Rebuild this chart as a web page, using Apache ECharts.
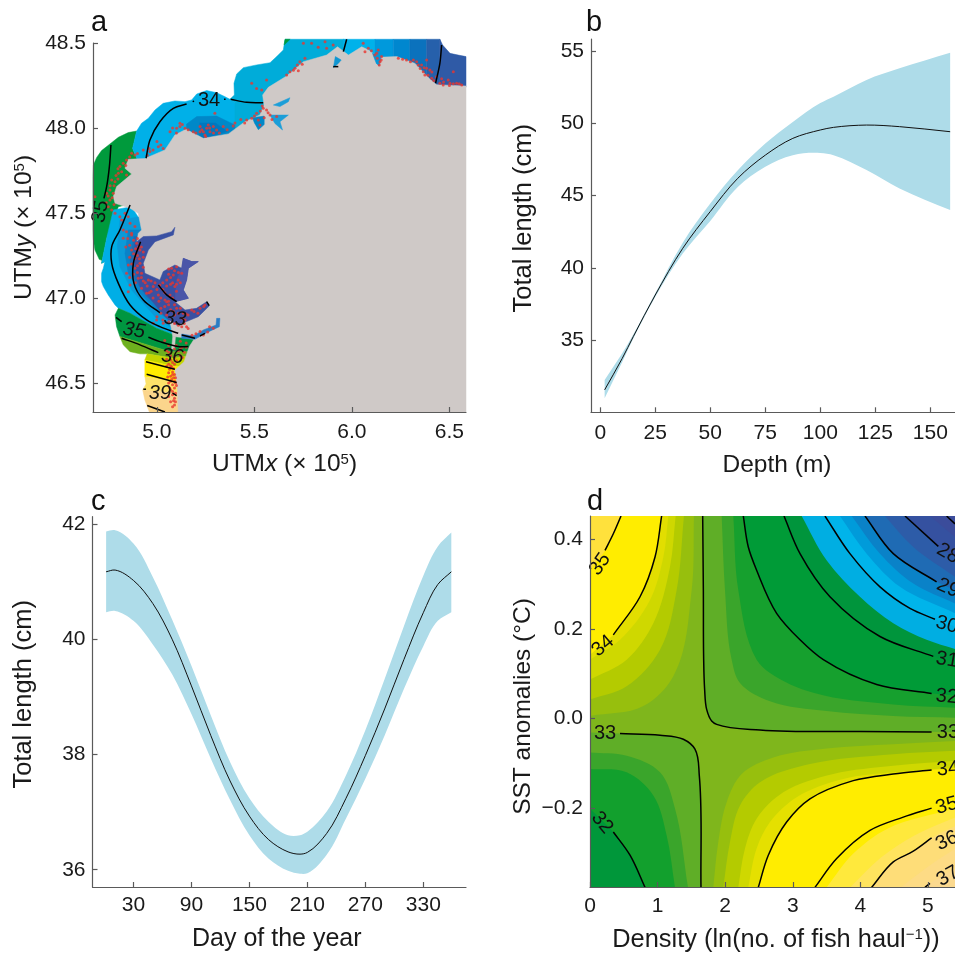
<!DOCTYPE html>
<html><head><meta charset="utf-8">
<style>html,body{margin:0;padding:0;background:#fff}#c{width:955px;height:953px}</style>
<script src="https://cdn.jsdelivr.net/npm/echarts@6/dist/echarts.min.js"></script>
</head><body><div id="c"></div>
<script>
// ---------- Panel b ----------
const depth=[2,10,15,25,37.5,50,62.5,75,87.5,100,106,121,136,159];
const depthMean=[31.57,33.75,35.25,38.13,41.36,43.9,46.2,47.8,48.96,49.54,49.72,49.88,49.77,49.42];
const depthUpper=[32.26,34.1,35.4,38.25,41.75,44.45,46.75,48.6,50.1,51.4,51.84,53.0,53.8,54.88];
const depthLower=[31.0,33.5,35.1,38.0,41.0,43.25,45.6,47.0,47.8,47.95,47.8,46.77,45.5,44.0];
const depthTicks=[0,25,50,75,100,125,150];
const lengthTicksB=[35,40,45,50,55];
// ---------- Panel c ----------
const day=[1.7,11,30,50,70,90,110,130,150,170,190,202.4,210,230,250,270,290,310,330,345,359];
const dayMean=[41.17,41.2,41.02,40.62,40.0,39.19,38.33,37.54,36.93,36.52,36.31,36.27,36.3,36.63,37.24,37.98,38.79,39.65,40.46,40.95,41.17];
const dayUpper=[41.87,41.89,41.66,41.08,40.34,39.54,38.68,37.87,37.24,36.83,36.6,36.6,36.66,37.01,37.64,38.42,39.31,40.23,41.1,41.61,41.85];
const dayLower=[40.47,40.49,40.32,39.91,39.39,38.7,37.93,37.21,36.6,36.19,35.98,35.93,35.94,36.26,36.89,37.58,38.33,39.14,39.88,40.32,40.47];
const dayTicks=[30,90,150,210,270,330];
const lengthTicksC=[36,38,40,42];
// ---------- Panel a ----------
const utmXTicks=[5,5.5,6,6.5];
const utmYTicks=[46.5,47,47.5,48,48.5];
const landOutline=[[6.585,46.329],[5.109,46.329],[5.105,46.459],[5.092,46.576],[5.139,46.625],[5.166,46.714],[5.19,46.757],[5.118,46.769],[5.081,46.773],[5.058,46.92],[4.947,47.106],[4.892,47.282],[4.904,47.38],[4.921,47.4],[4.904,47.498],[4.862,47.528],[4.785,47.557],[4.776,47.596],[4.793,47.655],[4.87,47.729],[4.836,47.763],[4.853,47.816],[4.938,47.82],[5.041,47.871],[5.092,47.959],[5.149,47.992],[5.238,47.939],[5.366,47.965],[5.451,48.037],[5.528,48.077],[5.549,48.135],[5.542,48.194],[5.571,48.239],[5.665,48.306],[5.751,48.39],[5.87,48.429],[5.926,48.478],[5.982,48.429],[6.05,48.478],[6.085,48.459],[6.136,48.416],[6.23,48.42],[6.324,48.38],[6.401,48.286],[6.435,48.255],[6.585,48.247]];
const seaRegions=[
 [[4.716,47.204],[4.733,47.214],[4.704,47.227],[4.682,47.282],[4.674,47.341],[4.672,47.4],[4.672,47.714],[4.674,47.782],[4.691,47.827],[4.716,47.867],[4.759,47.906],[4.802,47.945],[4.853,47.973],[4.896,47.982],[4.875,47.88],[4.9,47.812],[4.9,47.655],[4.85,47.55],[4.802,47.537],[4.776,47.459],[4.742,47.351]],
 [[4.896,47.982],[4.921,48.028],[4.956,48.057],[4.99,48.106],[5.032,48.145],[5.092,48.159],[5.144,48.155],[5.178,48.165],[5.204,48.2],[5.255,48.22],[5.306,48.208],[5.349,48.184],[5.374,48.169],[5.4,48.15],[5.42,48.0],[5.2,47.8],[4.9,47.812],[4.875,47.88]],
 [[5.374,48.169],[5.397,48.194],[5.395,48.263],[5.409,48.318],[5.443,48.355],[5.511,48.371],[5.58,48.384],[5.614,48.42],[5.648,48.459],[5.657,48.522],[5.96,48.522],[5.96,48.3],[5.6,48.0],[5.4,48.0],[5.4,48.15]],
 [[5.652,48.488],[5.657,48.522],[5.683,48.522]],
 [[5.956,48.522],[6.118,48.522],[6.118,48.3],[5.956,48.3]],
 [[6.118,48.522],[6.212,48.522],[6.212,48.3],[6.118,48.3]],
 [[6.212,48.522],[6.297,48.522],[6.297,48.3],[6.212,48.3]],
 [[6.297,48.522],[6.383,48.522],[6.383,48.25],[6.297,48.25]],
 [[6.383,48.522],[6.451,48.522],[6.451,48.24],[6.383,48.24]],
 [[6.451,48.522],[6.465,48.488],[6.503,48.439],[6.545,48.429],[6.585,48.42],[6.585,48.24],[6.451,48.24]],
 [[5.152,48.023],[5.204,48.067],[5.306,48.07],[5.4,48.018],[5.4,47.9],[5.15,47.9]],
 [[5.22,48.03],[5.3,48.03],[5.36,47.98],[5.22,47.93]],
 [[4.802,46.939],[4.785,46.959],[4.75,47.018],[4.725,47.067],[4.716,47.096],[4.716,47.145],[4.725,47.175],[4.733,47.214],[4.716,47.204],[4.742,47.351],[4.776,47.518],[4.87,47.537],[4.913,47.459],[5.186,47.106],[5.186,46.753],[5.109,46.773],[4.998,46.822],[4.862,46.91]],
 [[4.81,47.459],[4.797,47.302],[4.81,47.184],[4.87,47.047],[4.998,46.88],[5.101,46.802],[5.186,46.763],[5.186,47.4],[4.913,47.478]],
 [[4.853,47.4],[4.836,47.263],[4.853,47.145],[4.913,47.027],[5.015,46.91],[5.118,46.822],[5.186,46.812],[5.186,47.4]],
 [[4.882,47.361],[4.862,47.224],[4.887,47.106],[4.947,47.008],[5.032,46.929],[5.118,46.851],[5.186,46.851],[5.186,47.361]],
 [[4.802,46.939],[4.785,46.9],[4.793,46.831],[4.81,46.773],[5.067,46.684],[5.2,46.684],[5.2,46.773],[5.101,46.776],[4.998,46.822],[4.862,46.91]],
 [[4.81,46.773],[4.827,46.724],[4.862,46.684],[4.913,46.671],[4.95,46.671],[5.084,46.645],[5.2,46.665],[5.2,46.684],[5.067,46.684]],
 [[4.95,46.671],[4.938,46.635],[5.092,46.596],[5.2,46.6],[5.2,46.665],[5.084,46.645]],
 [[4.938,46.635],[4.938,46.537],[5.2,46.488],[5.2,46.6],[5.092,46.596]],
 [[4.938,46.537],[4.944,46.494],[4.927,46.459],[5.2,46.429],[5.2,46.488]],
 [[4.927,46.459],[4.938,46.4],[4.961,46.329],[5.2,46.329],[5.2,46.429]]
];
const seaColors=['#009a3c','#00b0e8','#00acd9','#009a3c','#00b2ea','#0099dc','#0087cf','#0b72bd','#2660ab','#2f5aa6','#0088c8','#0078bf','#00aee6','#0a9ad8','#0a82c8','#1c6cb5','#009640','#6eb01e','#c4d500','#ffed00','#fde36a','#fbd58c'];
const inlets=[
 [[4.887,47.322],[4.93,47.361],[4.998,47.365],[5.075,47.39],[5.092,47.416],[5.084,47.371],[4.99,47.331],[4.956,47.282],[4.93,47.204],[4.938,47.145],[5.015,47.106],[5.032,47.155],[5.092,47.194],[5.127,47.175],[5.135,47.233],[5.178,47.214],[5.212,47.214],[5.161,47.175],[5.152,47.106],[5.135,47.047],[5.161,46.998],[5.092,46.978],[5.144,46.929],[5.203,46.939],[5.255,46.978],[5.268,46.953],[5.212,46.89],[5.152,46.861],[5.101,46.841],[5.05,46.88],[4.998,46.949],[4.913,47.067],[4.887,47.184]],
 [[5.127,47.175],[5.135,47.233],[5.178,47.214],[5.212,47.214],[5.161,47.175],[5.152,47.106],[5.135,47.047],[5.161,46.998],[5.092,46.978],[5.101,47.106]],
 [[5.127,46.788],[5.186,46.776],[5.238,46.812],[5.303,46.841],[5.306,46.88],[5.323,46.88],[5.32,46.831],[5.255,46.796],[5.195,46.757],[5.127,46.763]],
 [[5.597,48.135],[5.682,48.178],[5.674,48.155],[5.631,48.126]],
 [[5.58,48.076],[5.674,48.076],[5.631,48.037],[5.644,47.988],[5.605,48.027]],
 [[5.49,48.06],[5.55,48.07],[5.55,48.02],[5.52,47.99],[5.5,48.03]],
 [[5.915,48.42],[5.945,48.4],[5.93,48.38],[5.905,48.355],[5.91,48.39]],
 [[6.105,48.44],[6.15,48.42],[6.14,48.365],[6.125,48.38]],
 [[5.081,46.773],[5.095,46.773],[5.09,46.7],[5.075,46.7]]
];
const inletColors=['#3a50a2','#4a55a8','#2a7cc4','#1c9ed8','#1c9ed8','#0088c8','#1096d2','#0099dc','#cfc9c7'];
const catchPoints=[
[5.751,48.498],[5.793,48.498],[5.862,48.508],[5.904,48.488],[5.87,48.469],[5.827,48.475],[5.759,48.41],[5.733,48.39],[5.708,48.351],[5.682,48.331],[5.725,48.337],[5.665,48.312],[6.058,48.498],[6.084,48.469],[6.067,48.449],[6.127,48.439],[6.152,48.42],[6.144,48.39],[6.135,48.459],[6.118,48.429],[6.238,48.41],[6.28,48.4],[6.315,48.4],[6.34,48.371],[6.366,48.331],[6.383,48.351],[6.409,48.292],[6.434,48.302],[6.494,48.282],[6.503,48.263],[6.537,48.263],[6.563,48.253],[6.451,48.263],[6.383,48.4],[6.357,48.371],[6.332,48.39],[6.4,48.341],[6.374,48.312],[6.468,48.253],[6.52,48.331],
[4.768,47.694],[4.802,47.733],[4.81,47.773],[4.827,47.792],[4.844,47.812],[4.87,47.851],[4.776,47.616],[4.759,47.576],[4.742,47.616],[4.768,47.518],[4.785,47.498],[4.682,47.596],[4.819,47.743],[4.844,47.724],[4.785,47.684],[4.759,47.635],[4.75,47.537],
[4.887,47.841],[4.93,47.871],[4.964,47.861],[5.007,47.89],[5.032,47.88],[5.101,47.998],[5.118,48.008],[5.067,47.978],[5.221,48.008],[5.255,47.998],[5.238,47.978],[5.272,47.978],[5.306,47.988],[5.34,48.008],[5.297,48.086],[5.186,47.978],[5.246,47.959],[5.391,48.012],[5.46,48.047],[5.486,48.057],[5.511,48.086],[5.545,48.116],[5.562,48.106],[5.58,48.076],[5.614,48.067],[5.528,48.018],[5.52,48.047],[5.486,48.263],[5.562,48.282],[5.511,48.233],[5.537,48.224],[5.118,48.028],[5.144,47.998],[5.263,48.018],[5.221,47.978],[5.289,48.008],
[4.844,47.39],[4.87,47.371],[4.827,47.351],[4.896,47.322],[4.913,47.282],[4.87,47.282],[4.887,47.233],[4.913,47.204],[4.853,47.194],[4.844,47.145],[4.887,47.175],[4.921,47.145],[4.904,47.116],[4.862,47.076],[4.853,47.037],[4.921,47.057],[4.947,47.027],[4.956,47.106],[4.981,47.067],[5.007,47.018],[5.041,46.988],[5.067,47.018],[5.092,47.067],[5.015,47.076],[5.05,47.106],[5.084,47.135],[5.109,47.106],[5.075,47.175],[5.101,47.184],[5.127,47.145],[5.05,46.978],[5.101,46.939],[5.135,46.91],[5.178,46.929],[5.221,46.939],[5.246,46.959],[5.084,46.92],[5.05,46.9],[4.998,46.871],[5.032,46.851],[4.981,46.851],[5.127,46.831],[5.152,46.831],[5.238,46.782],[5.221,46.802],[5.289,46.822],[5.144,46.871],
[4.81,47.478],[4.836,47.498],[4.862,47.439],[4.887,47.42],[4.827,47.4],[4.87,47.38],[4.819,47.459],[4.853,47.478],
[4.905,47.3],[4.93,47.24],[4.9,47.15],[4.93,47.1],[4.97,47.04],[5.02,47.0],[5.06,46.96],[5.02,46.94],[5.09,46.9],[5.12,46.94],[5.15,46.905],[5.07,47.08],[5.03,47.05],[5.1,47.04],[5.12,47.09],[5.06,47.14],
[5.09,46.37],[5.07,46.39],[5.09,46.41],[5.06,46.42],[5.08,46.43],[5.095,46.44],[5.07,46.46],[5.09,46.47],[5.08,46.49],[5.06,46.5],[5.09,46.51],[5.075,46.52],[5.085,46.53],[5.07,46.54],[5.09,46.55],[5.06,46.56],[5.08,46.565],[5.065,46.58],[5.075,46.595],[5.05,46.6],[5.06,46.61],[5.08,46.62],[5.07,46.635],[5.09,46.65],[5.1,46.63],[5.12,46.66],[5.07,46.66],[5.11,46.69],[5.09,46.7],[5.13,46.71],[5.06,46.72],[5.1,46.72],[5.15,46.735],[5.04,46.75],[5.12,46.745],[5.085,46.585],[5.055,46.535],[5.1,46.485],[5.085,46.395],
[4.85,47.35],[4.88,47.34],[4.9,47.35],[4.86,47.31],[4.84,47.3],[4.89,47.29],[4.92,47.3],[4.88,47.26],[4.9,47.25],[4.86,47.24],[4.91,47.23],[4.93,47.27],[4.87,47.2],[4.9,47.19],[4.93,47.18],[4.88,47.14],[4.86,47.12],[4.92,47.12],[4.94,47.09],[4.89,47.09],[4.95,47.07],[4.97,47.1],[4.99,47.09],[5.0,47.05],[4.96,47.03],[4.98,47.0],[5.01,46.98],[5.04,47.03],[5.03,47.09],[5.05,47.07],[5.08,47.09],[5.07,47.12],[5.1,47.08],[5.11,47.15],[5.09,47.16],[5.06,47.17],[5.08,47.0],[5.06,46.98],[5.04,46.95],[5.07,46.93],[5.09,46.96],[5.11,46.91],[5.13,46.88],[5.16,46.9],[5.19,46.92],[5.21,46.91],[5.24,46.95],[5.02,46.91],[5.0,46.89],[5.03,46.87],[5.06,46.86],[5.09,46.85],[5.11,46.84],[5.14,46.85],[5.16,46.82],[5.18,46.78],[5.2,46.79],[5.27,46.83],[5.26,46.8],
[5.0,47.92],[5.02,47.9],[4.96,47.88],[5.08,48.0],[5.1,47.97],[5.13,48.02],[5.16,47.99],[5.2,47.97],[5.23,47.99],[5.25,47.95],[5.27,48.0],[5.29,47.97],[5.32,47.97],[5.36,47.99],[5.4,48.03],[5.43,48.05],[5.45,48.03],[5.5,48.07],[5.53,48.1],[5.57,48.09],[5.59,48.05],[5.55,48.06],[5.54,48.13],
[4.79,47.72],[4.8,47.7],[4.78,47.66],[4.76,47.66],[4.75,47.6],[4.77,47.59],[4.78,47.55],[4.74,47.56],[4.8,47.76],[4.84,47.78],[4.86,47.83],[4.9,47.85],[4.95,47.84],[4.98,47.87],
[5.7,48.34],[5.72,48.37],[5.745,48.375],[6.1,48.455],[6.13,48.41],[6.14,48.37],[6.15,48.4],[6.26,48.405],[6.3,48.39],[6.35,48.35],[6.37,48.355],[6.39,48.31],[6.41,48.33],[6.42,48.28],[6.47,48.27],[6.5,48.25],[6.52,48.26],[6.55,48.26],[6.46,48.29],
[5.08,46.36],[5.095,46.39],[5.08,46.45],[5.065,46.47],[5.095,46.5],[5.07,46.51],[5.095,46.53],[5.08,46.55],[5.07,46.6],[5.09,46.61],[5.05,46.64],[5.06,46.68],[5.12,46.7],[5.14,46.68],[5.13,46.65],[5.15,46.71],[5.05,46.69]
];
const mapContours=[
 [[4.944,47.822],[4.964,47.929],[5.015,48.037],[5.084,48.116],[5.152,48.141]],
 [[5.183,48.155],[5.19,48.159]],
 [[5.344,48.169],[5.352,48.169]],
 [[5.378,48.169],[5.46,48.151],[5.545,48.149]],
 [[4.764,47.9],[4.756,47.773],[4.742,47.655],[4.728,47.586]],
 [[5.973,48.522],[5.956,48.449]],
 [[5.904,48.361],[5.93,48.361]],
 [[6.46,48.488],[6.451,48.38],[6.429,48.263]],
 [[4.862,47.547],[4.81,47.4],[4.768,47.302],[4.768,47.204],[4.802,47.086],[4.862,46.959],[4.947,46.871],[5.015,46.831],[5.109,46.792]],
 [[5.127,46.782],[5.195,46.763]],
 [[5.221,46.776],[5.246,46.792]],
 [[4.916,47.331],[4.879,47.204],[4.882,47.086],[4.93,46.988],[5.015,46.914]],
 [[5.007,47.076],[5.05,47.018],[5.101,46.978]],
 [[4.79,46.886],[4.819,46.861]],
 [[4.956,46.769],[5.015,46.743],[5.109,46.714],[5.161,46.714]],
 [[4.819,46.763],[4.913,46.724],[5.007,46.678]],
 [[4.944,46.625],[5.092,46.58]],
 [[4.947,46.551],[5.101,46.502]],
 [[4.93,46.463],[4.944,46.463]],
 [[5.08,46.44],[5.101,46.425]],
 [[4.95,46.367],[5.041,46.329]],
 [[5.255,46.978],[5.268,46.955]]
];
const mapLabels=[[5.267,48.159,'34'],[4.711,47.508,'35'],[5.092,46.876,'33'],[4.882,46.808,'35'],[5.079,46.655,'36'],[5.015,46.439,'39']];
const mapLabelTurn=[0,80,-5,-10,-5,0];
const mapLabelItalic=[false,false,true,true,true,true];
// ---------- Panel d ----------
const densityTicks=[0,1,2,3,4,5];
const sstTicks=[-0.2,0,0.2,0.4];
const densityMin=0,densityMax=5.4,sstMin=-0.375,sstMax=0.4516;
const c33Right=[[1.667,.4516],[1.677,.2865],[1.681,.1388],[1.696,.065],[1.726,.0207],[1.8,-.0052],[1.874,-.0126],[2.515,-.0251],[3.994,-.0288],[5.054,-.0295]];
const c33Left=[[.444,-.0332],[1.036,-.0369],[1.381,-.0458],[1.553,-.0679],[1.617,-.127],[1.642,-.3758]];
const c34Left=[[0,.1425],[.345,.1868],[.74,.2717],[.962,.3603],[1.06,.4516]];
const c35Left=[[0,.3307],[.222,.375],[.345,.412],[.459,.4516]];
const c32Low=[[0,-.2008],[.345,-.2525],[.592,-.3042],[.814,-.3758]];
const c32Up=[[2.268,.4516],[2.342,.3824],[2.465,.3307],[2.761,.2348],[3.107,.1757],[3.452,.1314],[4.241,.076],[5.054,.0561],[5.4,.0517]];
const c31=[[2.87,.4516],[3.107,.3677],[3.55,.2717],[4.29,.1831],[5.079,.1388],[5.4,.1277]];
const c30=[[3.476,.4516],[3.846,.3677],[4.29,.2938],[4.734,.2458],[5.104,.2215],[5.4,.2052]];
const c29=[[4.068,.4516],[4.487,.3677],[5.128,.3049],[5.4,.2865]];
const c28=[[4.66,.4516],[5.153,.3839],[5.4,.3603]];
const c27=[[5.276,.4516],[5.4,.4341]];
const c34Right=[[2.49,-.3758],[2.638,-.3042],[2.909,-.2303],[3.254,-.1787],[3.895,-.138],[4.487,-.1233],[5.054,-.1144],[5.4,-.1107]];
const c35Right=[[3.328,-.3758],[3.649,-.3115],[4.142,-.2488],[4.635,-.2193],[5.054,-.1993],[5.4,-.186]];
const c36Right=[[4.167,-.3758],[4.487,-.3191],[4.783,-.2953],[5.054,-.2657],[5.4,-.2398]];
const c37Right=[[4.956,-.3758],[5.03,-.3669],[5.4,-.334]];
const upperLeftBands=[
 [[0,.006],[.789,.028],[1.233,.0945],[1.504,.286],[1.538,.4516]],
 [[0,.0428],[.542,.0723],[1.036,.1536],[1.282,.2865],[1.39,.4516]],
 [[0,.0871],[.542,.1314],[.937,.2126],[1.183,.338],[1.267,.4516]],
 [[0,.1314],[.444,.1757],[.888,.2643],[1.085,.36],[1.159,.4516]],
 c34Left,c35Left
];
const upperLeftColors=['#97bf0d','#b4cb00','#cfd800','#e2de00','#ffed00','#ffe13c'];
const upperRightBands=[
 [[1.667,.4516],[1.677,.2865],[1.681,.1388],[1.696,.065],[1.726,.0207],[1.8,-.0052],[1.874,-.0126],[2.515,-.0251],[3.994,-.0288],[5.4,-.0295]],
 [[1.948,.4516],[1.997,.2865],[2.096,.1314],[2.219,.0797],[2.663,.0391],[3.5,.017],[4.487,.0059],[5.4,.0022]],
 [[2.12,.4516],[2.194,.2865],[2.465,.1314],[2.663,.1019],[3.304,.0576],[4.487,.0317],[5.4,.0244]],
 c32Up,c31,
 [[3.131,.4516],[3.5,.3529],[3.994,.2717],[4.487,.2126],[4.98,.1757],[5.4,.155]],
 c30,
 [[3.698,.4516],[4.093,.3677],[4.586,.2938],[5.4,.2348]],
 [[3.871,.4516],[4.29,.3677],[4.783,.3012],[5.4,.2569]],
 c29,
 [[4.364,.4516],[4.783,.3824],[5.4,.316]],
 c28,
 [[5.03,.4516],[5.4,.4046]]
];
const upperRightColors=['#5fae27','#3aa52b','#16a02e','#009b37','#00953c','#00aee2','#00b4ea','#009bda','#0a82c8','#1f6bb4','#2d5ca8','#3551a0','#3b4c9b'];
const lowerLeftBands=[
 [[0,-.031],[.444,-.0332],[1.036,-.0369],[1.381,-.0458],[1.553,-.0679],[1.617,-.127],[1.642,-.3758]],
 [[0,-.0753],[.543,-.0827],[1.036,-.1196],[1.257,-.2],[1.45,-.3758]],
 [[0,-.1122],[.542,-.1196],[.937,-.1713],[1.134,-.26],[1.257,-.3758]],
 c32Low
];
const lowerLeftColors=['#5fae27','#3aa52b','#12a02d','#00973a'];
const lowerRightBands=[
 [[1.824,-.3758],[1.898,-.2746],[2.022,-.186],[2.244,-.1233],[2.712,-.0864],[3.501,-.0664],[4.487,-.0568],[5.4,-.0495]],
 [[1.972,-.3758],[2.071,-.2746],[2.219,-.1934],[2.515,-.1417],[3.254,-.1011],[4.487,-.079],[5.4,-.0716]],
 [[2.194,-.3758],[2.293,-.2894],[2.465,-.2229],[2.86,-.1639],[3.6,-.1233],[4.487,-.1049],[5.4,-.0938]],
 [[2.342,-.3758],[2.465,-.2894],[2.663,-.2303],[3.057,-.175],[3.748,-.1344],[4.487,-.1196],[5.4,-.1085]],
 c34Right,
 [[3.5,-.3758],[3.9,-.3],[4.4,-.245],[5.4,-.2]],
 [[3.85,-.3758],[4.3,-.31],[4.8,-.26],[5.4,-.22]],
 c36Right,
 [[4.6,-.3758],[5.0,-.33],[5.4,-.29]],
 c37Right
];
const lowerRightColors=['#97bf0d','#b4cb00','#cfd800','#e5e000','#ffed00','#ffe93c','#ffe45e','#fedd78','#fddb85','#fbd98f'];
// Contour lines stop short of their labels at the plot edges.
const surfaceContours=[c33Right,c33Left,c34Left.slice(1),c35Left.slice(1),c32Low.slice(1),
 c32Up.slice(0,-1),c31.slice(0,-1),c30.slice(0,-1),c29.slice(0,-1),c28.slice(0,-1),c27,
 c34Right.slice(0,-1),c35Right.slice(0,-1),c36Right.slice(0,-1),c37Right.slice(0,-1)];
const surfaceLabels=[[.148,.344,'35'],[.192,.162,'34'],[.222,-.032,'33'],[.178,-.232,'32'],[5.296,.368,'28'],[5.296,.291,'29'],[5.28,.209,'30'],[5.28,.131,'31'],[5.28,.049,'32'],[5.296,-.03,'33'],[5.296,-.112,'34'],[5.28,-.194,'35'],[5.28,-.272,'36'],[5.296,-.351,'37']];
const surfaceLabelTurn=[55,40,0,-50,-30,-25,-15,-10,-5,0,5,15,25,30];

// ---------- drawing ----------
const FONT='"Liberation Sans",Arial,sans-serif';
const AXIS='#5a5a5a', BAND='#aedce9', TICK=21, NAME=24.5;
const rich={it:{fontFamily:FONT,fontSize:NAME,fontStyle:'italic',color:'#1a1a1a'},
 sup:{fontFamily:FONT,fontSize:15,color:'#1a1a1a',verticalAlign:'top',padding:[0,0,9,0]}};
function axis(min,max,ticks,name,gap,pad,fmt,idx,margin,nameSize){
 const r={it:{...rich.it,fontSize:nameSize||NAME},sup:rich.sup};
 return {type:'value',gridIndex:idx,min,max,name,nameLocation:'middle',nameGap:gap,z:10,
  nameTextStyle:{fontFamily:FONT,fontSize:nameSize||NAME,color:'#1a1a1a',rich:r,padding:pad},
  axisLine:{show:true,onZero:false,lineStyle:{color:AXIS,width:1.2}},
  axisTick:{show:true,inside:true,length:5,customValues:ticks,lineStyle:{color:AXIS,width:1.2}},
  axisLabel:{show:true,customValues:ticks,margin,fontFamily:FONT,fontSize:TICK,color:'#1a1a1a',formatter:fmt},
  splitLine:{show:false}};
}
const one=v=>v.toFixed(1), minus=v=>v.toFixed(1).replace('-','\u2212'), plain=v=>String(v);
const series=[];
// smooth curve through screen points given by the axes (rendering only, no extra data)
function splineSegs(P){
 const n=P.length,T=[];
 const unit=(a,b)=>{const dx=b[0]-a[0],dy=b[1]-a[1],l=Math.hypot(dx,dy)||1;return [dx/l,dy/l];};
 for(let i=0;i<n;i++){
  if(i===0) T.push(unit(P[0],P[1]));
  else if(i===n-1) T.push(unit(P[n-2],P[n-1]));
  else {const a=unit(P[i-1],P[i]),b=unit(P[i],P[i+1]);T.push(unit([0,0],[a[0]+b[0],a[1]+b[1]]));}
 }
 let s='';
 for(let i=0;i<n-1;i++){
  const L=Math.hypot(P[i+1][0]-P[i][0],P[i+1][1]-P[i][1])/3;
  s+=' C '+[P[i][0]+T[i][0]*L,P[i][1]+T[i][1]*L,P[i+1][0]-T[i+1][0]*L,P[i+1][1]-T[i+1][1]*L,P[i+1][0],P[i+1][1]].map(v=>v.toFixed(2)).join(' ');
 }
 return s;
}
const moveTo=p=>'M '+p[0].toFixed(2)+' '+p[1].toFixed(2);
const lineTo=p=>' L '+p[0].toFixed(2)+' '+p[1].toFixed(2);
function pathSeries(g,z,clip,build,style){
 series.push({type:'custom',xAxisIndex:g,yAxisIndex:g,silent:true,z,clip,data:[[0]],encode:{x:[],y:[]},
  renderItem:(p,api)=>({type:'path',shape:{pathData:build(q=>api.coord(q))},style})});
}
function contour(pts,g,w,clip){
 pathSeries(g,5,clip,c=>{const P=pts.map(c);return moveTo(P[0])+splineSegs(P);},
  {fill:'none',stroke:'#000',lineWidth:w});
}
function area(pts,col,corner,g){
 pathSeries(g,2,true,c=>{const P=pts.map(c);return moveTo(P[0])+splineSegs(P)+lineTo(c(corner))+' Z';},
  {fill:col,stroke:null});
}
function band(xs,mean,up,lo,g){
 const U=xs.map((x,i)=>[x,up[i]]),D=xs.map((x,i)=>[x,lo[i]]).reverse(),M=xs.map((x,i)=>[x,mean[i]]);
 pathSeries(g,2,true,c=>{const a=U.map(c),b=D.map(c);return moveTo(a[0])+splineSegs(a)+lineTo(b[0])+splineSegs(b)+' Z';},
  {fill:BAND,stroke:null});
 pathSeries(g,5,true,c=>{const P=M.map(c);return moveTo(P[0])+splineSegs(P);},{fill:'none',stroke:'#111',lineWidth:1});
}
function polys(list,colors,g,z){
 series.push({type:'custom',xAxisIndex:g,yAxisIndex:g,silent:true,z,clip:false,
  data:list.map((_,i)=>[i]),encode:{x:[],y:[]},
  renderItem:(p,api)=>{const i=api.value(0);
   return {type:'polygon',shape:{points:list[i].map(q=>api.coord(q))},
    style:{fill:colors[i],stroke:colors[i],lineWidth:.5}};}});
}
function texts(list,turns,g,z,italic,size){
 series.push({type:'custom',xAxisIndex:g,yAxisIndex:g,silent:true,z,clip:false,
  data:list.map((_,i)=>[i]),encode:{x:[],y:[]},
  renderItem:(p,api)=>{const i=api.value(0),c=api.coord(list[i]);
   return {type:'text',x:c[0],y:c[1],rotation:turns[i]*Math.PI/180,
    style:{text:list[i][2],fill:'#111',font:(italic&&italic[i]?'italic ':'')+size+'px '+FONT,
     textAlign:'center',textVerticalAlign:'middle',align:'center',verticalAlign:'middle'}};}});
}
// a
polys(seaRegions,seaColors,0,2);
polys([landOutline],['#cfc9c7'],0,3);
polys(inlets,inletColors,0,3);
series.push({type:'scatter',xAxisIndex:0,yAxisIndex:0,data:catchPoints,symbolSize:3,clip:false,silent:true,z:4,itemStyle:{color:'#e8362f'}});
mapContours.forEach(c=>contour(c,0,1.5,false));
texts(mapLabels,mapLabelTurn,0,6,mapLabelItalic,20);
// b, c
band(depth,depthMean,depthUpper,depthLower,1);
band(day,dayMean,dayUpper,dayLower,2);
// d
upperLeftBands.forEach((b,i)=>area(b,upperLeftColors[i],[densityMin,sstMax],3));
upperRightBands.forEach((b,i)=>area(b,upperRightColors[i],[densityMax,sstMax],3));
lowerLeftBands.forEach((b,i)=>area(b,lowerLeftColors[i],[densityMin,sstMin],3));
lowerRightBands.forEach((b,i)=>area(b,lowerRightColors[i],[densityMax,sstMin],3));
surfaceContours.forEach(c=>contour(c,3,1.5,true));
texts(surfaceLabels,surfaceLabelTurn,3,6,null,20);

const chart=echarts.init(document.getElementById('c'),null,{renderer:'canvas',width:955,height:953});
const letter=(text,left,top)=>({text,left,top,padding:0,textStyle:{fontFamily:FONT,fontSize:29,fontWeight:'normal',color:'#111'}});
chart.setOption({
 animation:false,backgroundColor:'#fff',
 title:[letter('a',91,8),letter('b',586,8),letter('c',91,487),letter('d',587,487)],
 grid:[
  {left:93,top:43,width:373,height:369},
  {left:591,top:39,width:364,height:373.3},
  {left:92.5,top:516.7,width:373.5,height:372.6},
  {left:590,top:516,width:365,height:373,show:true,borderWidth:0,backgroundColor:'#7fb61c'}
 ],
 xAxis:[
  axis(4.672,6.585,utmXTicks,'UTM{it|x} (× 10{sup|5})',40,[0,0,0,10],one,0,10),
  axis(-4.2,161.2,depthTicks,'Depth (m)',40,[0,0,0,8],plain,1,10),
  axis(-12.4,374.2,dayTicks,'Day of the year',40,[0,5,0,0],plain,2,8,25),
  axis(densityMin,densityMax,densityTicks,'Density (ln(no. of fish haul{sup|\u22121}))',40,[0,0,0,7],plain,3,9,25.4)
 ],
 yAxis:[
  axis(46.329,48.5,utmYTicks,'UTM{it|y} (× 10{sup|5})',56,0,one,0,7),
  axis(30.02,55.83,lengthTicksB,'Total length (cm)',54,[0,0,0,15],plain,1,7,25.5),
  axis(35.7,42.126,lengthTicksC,'Total length (cm)',56,[0,0,0,15],plain,2,7,25.5),
  axis(sstMin,sstMax,sstTicks,'SST anomalies (\u00b0C)',54,[0,10,0,0],minus,3,7)
 ],
 series
});
</script></body></html>
